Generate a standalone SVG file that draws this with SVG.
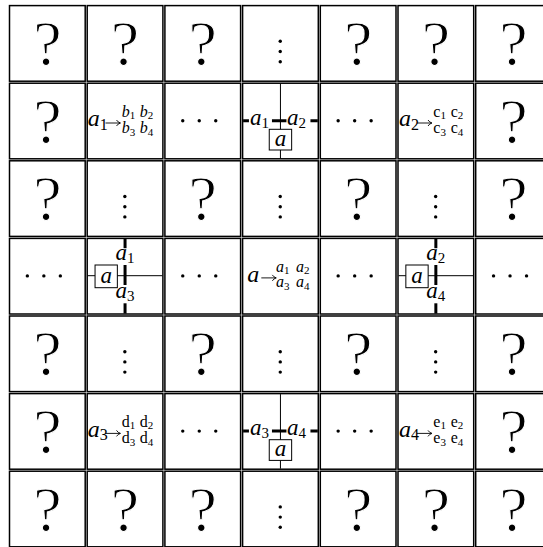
<svg xmlns="http://www.w3.org/2000/svg" xmlns:xlink="http://www.w3.org/1999/xlink" width="543" height="547" viewBox="0 0 543 547" font-family="'Liberation Serif','Times New Roman',serif">
<style>
text{font-family:"Liberation Serif","Times New Roman",serif;fill:#000}
.cell{fill:#fff;stroke:#000;stroke-width:1.5}
.q{font-size:64px;text-anchor:middle;stroke:#fff;stroke-width:1.1}
.big{font-size:24px;font-style:italic}
.bs{font-size:16px;font-style:normal}
.m{font-size:16px}
.mi{font-size:16px;font-style:italic}
.ms{font-size:11px}
.lbl{font-size:23px;font-style:italic}
.ls{font-size:15px;font-style:normal}
.mid{text-anchor:middle}
.thick{stroke:#000;stroke-width:3}
.thin{stroke:#000;stroke-width:1}
.bg{fill:#fff}
.box{fill:#fff;stroke:#000;stroke-width:1}
.arw{fill:none;stroke:#000;stroke-width:0.9}
</style>
<defs>
<g id="hd"><circle cx="-16.5" cy="0" r="1.7"/><circle cx="0" cy="0" r="1.7"/><circle cx="16.5" cy="0" r="1.7"/></g>
<g id="vd"><circle cx="0" cy="-10.2" r="1.7"/><circle cx="0" cy="0" r="1.7"/><circle cx="0" cy="10.2" r="1.7"/></g>
<path id="ar" class="arw" d="M0,0 H14.5 M11,-3 Q12.5,-0.6 15,0 Q12.5,0.6 11,3"/>
</defs>
<rect width="543" height="547" fill="#fff"/>

<!-- Row 0 -->
<g id="c0_0"><rect class="cell" x="9.5" y="5.6" width="75.7" height="75.6"/><text class="q" x="47.35" y="65">?</text></g>
<g id="c0_1"><rect class="cell" x="87.2" y="5.6" width="75.7" height="75.6"/><text class="q" x="125.05" y="65">?</text></g>
<g id="c0_2"><rect class="cell" x="164.9" y="5.6" width="75.7" height="75.6"/><text class="q" x="202.75" y="65">?</text></g>
<g id="c0_3"><rect class="cell" x="242.6" y="5.6" width="75.7" height="75.6"/><use xlink:href="#vd" x="280.25" y="51.5"/></g>
<g id="c0_4"><rect class="cell" x="320.3" y="5.6" width="75.7" height="75.6"/><text class="q" x="358.15" y="65">?</text></g>
<g id="c0_5"><rect class="cell" x="398" y="5.6" width="75.7" height="75.6"/><text class="q" x="435.85" y="65">?</text></g>
<g id="c0_6"><rect class="cell" x="475.7" y="5.6" width="75.7" height="75.6"/><text class="q" x="513.55" y="65">?</text></g>

<!-- Row 1 -->
<g id="c1_0"><rect class="cell" x="9.5" y="83.2" width="75.7" height="75.6"/><text class="q" x="47.35" y="142.6">?</text></g>
<g id="c1_1"><rect class="cell" x="87.2" y="83.2" width="75.7" height="75.6"/>
<text x="87.7" y="126.2"><tspan class="big">a</tspan><tspan class="bs" dy="3.5">1</tspan></text>
<use xlink:href="#ar" x="105.5" y="123"/>
<text x="121.7" y="116.7"><tspan class="mi">b</tspan><tspan class="ms" dy="2.5">1</tspan></text>
<text x="139.7" y="116.7"><tspan class="mi">b</tspan><tspan class="ms" dy="2.5">2</tspan></text>
<text x="121.7" y="133.2"><tspan class="mi">b</tspan><tspan class="ms" dy="2.5">3</tspan></text>
<text x="139.7" y="133.2"><tspan class="mi">b</tspan><tspan class="ms" dy="2.5">4</tspan></text>
</g>
<g id="c1_2"><rect class="cell" x="164.9" y="83.2" width="75.7" height="75.6"/><use xlink:href="#hd" x="199.25" y="120.7"/></g>
<g id="c1_3"><rect class="cell" x="242.6" y="83.2" width="75.7" height="75.6"/>
<line class="thick" x1="243.1" y1="120.7" x2="317.8" y2="120.7"/>
<line class="thin" x1="280.45" y1="83.7" x2="280.45" y2="158.3"/>
<rect class="bg" x="248.95" y="112" width="23" height="14"/>
<rect class="bg" x="286.45" y="112" width="24" height="14"/>
<text x="249.95" y="125"><tspan class="lbl">a</tspan><tspan class="ls" dy="3">1</tspan></text>
<text x="286.95" y="125"><tspan class="lbl">a</tspan><tspan class="ls" dy="3">2</tspan></text>
<rect class="box" x="269.25" y="129.3" width="22.4" height="20.7"/>
<text class="lbl mid" x="280.45" y="146">a</text>
</g>
<g id="c1_4"><rect class="cell" x="320.3" y="83.2" width="75.7" height="75.6"/><use xlink:href="#hd" x="354.65" y="120.7"/></g>
<g id="c1_5"><rect class="cell" x="398" y="83.2" width="75.7" height="75.6"/>
<text x="399" y="126.2"><tspan class="big">a</tspan><tspan class="bs" dy="3.5">2</tspan></text>
<use xlink:href="#ar" x="417" y="123"/>
<text x="433.3" y="116.7"><tspan class="m">c</tspan><tspan class="ms" dy="2.5">1</tspan></text>
<text x="450.7" y="116.7"><tspan class="m">c</tspan><tspan class="ms" dy="2.5">2</tspan></text>
<text x="433.3" y="133.2"><tspan class="m">c</tspan><tspan class="ms" dy="2.5">3</tspan></text>
<text x="450.7" y="133.2"><tspan class="m">c</tspan><tspan class="ms" dy="2.5">4</tspan></text>
</g>
<g id="c1_6"><rect class="cell" x="475.7" y="83.2" width="75.7" height="75.6"/><text class="q" x="513.55" y="142.6">?</text></g>

<!-- Row 2 -->
<g id="c2_0"><rect class="cell" x="9.5" y="160.8" width="75.7" height="75.6"/><text class="q" x="47.35" y="220.2">?</text></g>
<g id="c2_1"><rect class="cell" x="87.2" y="160.8" width="75.7" height="75.6"/><use xlink:href="#vd" x="124.85" y="206.7"/></g>
<g id="c2_2"><rect class="cell" x="164.9" y="160.8" width="75.7" height="75.6"/><text class="q" x="202.75" y="220.2">?</text></g>
<g id="c2_3"><rect class="cell" x="242.6" y="160.8" width="75.7" height="75.6"/><use xlink:href="#vd" x="280.25" y="206.7"/></g>
<g id="c2_4"><rect class="cell" x="320.3" y="160.8" width="75.7" height="75.6"/><text class="q" x="358.15" y="220.2">?</text></g>
<g id="c2_5"><rect class="cell" x="398" y="160.8" width="75.7" height="75.6"/><use xlink:href="#vd" x="435.65" y="206.7"/></g>
<g id="c2_6"><rect class="cell" x="475.7" y="160.8" width="75.7" height="75.6"/><text class="q" x="513.55" y="220.2">?</text></g>

<!-- Row 3 -->
<g id="c3_0"><rect class="cell" x="9.5" y="238.4" width="75.7" height="75.6"/><use xlink:href="#hd" x="43.85" y="275.9"/></g>
<g id="c3_1"><rect class="cell" x="87.2" y="238.4" width="75.7" height="75.6"/>
<line class="thin" x1="87.7" y1="275.7" x2="162.4" y2="275.7"/>
<line class="thick" x1="125.05" y1="238.9" x2="125.05" y2="313.5"/>
<rect class="bg" x="112.55" y="248.2" width="25" height="16.8"/>
<rect class="bg" x="112.55" y="285" width="25" height="18.3"/>
<text class="mid" x="125.05" y="260"><tspan class="lbl">a</tspan><tspan class="ls" dy="3">1</tspan></text>
<text class="mid" x="125.05" y="298.3"><tspan class="lbl">a</tspan><tspan class="ls" dy="3">3</tspan></text>
<rect class="box" x="95.05" y="265" width="22.3" height="22.7"/>
<text class="lbl mid" x="106.2" y="283.2">a</text>
</g>
<g id="c3_2"><rect class="cell" x="164.9" y="238.4" width="75.7" height="75.6"/><use xlink:href="#hd" x="199.25" y="275.9"/></g>
<g id="c3_3"><rect class="cell" x="242.6" y="238.4" width="75.7" height="75.6"/>
<text class="big" x="247.3" y="281.8">a</text>
<use xlink:href="#ar" x="261.3" y="277.9"/>
<text x="276" y="271.9"><tspan class="mi">a</tspan><tspan class="ms" dy="2.5">1</tspan></text>
<text x="296" y="271.9"><tspan class="mi">a</tspan><tspan class="ms" dy="2.5">2</tspan></text>
<text x="276" y="287.4"><tspan class="mi">a</tspan><tspan class="ms" dy="2.5">3</tspan></text>
<text x="296" y="287.4"><tspan class="mi">a</tspan><tspan class="ms" dy="2.5">4</tspan></text>
</g>
<g id="c3_4"><rect class="cell" x="320.3" y="238.4" width="75.7" height="75.6"/><use xlink:href="#hd" x="354.65" y="275.9"/></g>
<g id="c3_5"><rect class="cell" x="398" y="238.4" width="75.7" height="75.6"/>
<line class="thin" x1="398.5" y1="275.7" x2="473.2" y2="275.7"/>
<line class="thick" x1="435.85" y1="238.9" x2="435.85" y2="313.5"/>
<rect class="bg" x="423.35" y="248.2" width="25" height="16.8"/>
<rect class="bg" x="423.35" y="285" width="25" height="18.3"/>
<text class="mid" x="435.85" y="260"><tspan class="lbl">a</tspan><tspan class="ls" dy="3">2</tspan></text>
<text class="mid" x="435.85" y="298.3"><tspan class="lbl">a</tspan><tspan class="ls" dy="3">4</tspan></text>
<rect class="box" x="405.85" y="265" width="22.3" height="22.7"/>
<text class="lbl mid" x="417" y="283.2">a</text>
</g>
<g id="c3_6"><rect class="cell" x="475.7" y="238.4" width="75.7" height="75.6"/><use xlink:href="#hd" x="510.05" y="275.9"/></g>

<!-- Row 4 -->
<g id="c4_0"><rect class="cell" x="9.5" y="316" width="75.7" height="75.6"/><text class="q" x="47.35" y="375.4">?</text></g>
<g id="c4_1"><rect class="cell" x="87.2" y="316" width="75.7" height="75.6"/><use xlink:href="#vd" x="124.85" y="361.9"/></g>
<g id="c4_2"><rect class="cell" x="164.9" y="316" width="75.7" height="75.6"/><text class="q" x="202.75" y="375.4">?</text></g>
<g id="c4_3"><rect class="cell" x="242.6" y="316" width="75.7" height="75.6"/><use xlink:href="#vd" x="280.25" y="361.9"/></g>
<g id="c4_4"><rect class="cell" x="320.3" y="316" width="75.7" height="75.6"/><text class="q" x="358.15" y="375.4">?</text></g>
<g id="c4_5"><rect class="cell" x="398" y="316" width="75.7" height="75.6"/><use xlink:href="#vd" x="435.65" y="361.9"/></g>
<g id="c4_6"><rect class="cell" x="475.7" y="316" width="75.7" height="75.6"/><text class="q" x="513.55" y="375.4">?</text></g>

<!-- Row 5 -->
<g id="c5_0"><rect class="cell" x="9.5" y="393.6" width="75.7" height="75.6"/><text class="q" x="47.35" y="453">?</text></g>
<g id="c5_1"><rect class="cell" x="87.2" y="393.6" width="75.7" height="75.6"/>
<text x="87.7" y="436.6"><tspan class="big">a</tspan><tspan class="bs" dy="3.5">3</tspan></text>
<use xlink:href="#ar" x="105.5" y="433.4"/>
<text x="121.7" y="426.6"><tspan class="m">d</tspan><tspan class="ms" dy="2.5">1</tspan></text>
<text x="139.7" y="426.6"><tspan class="m">d</tspan><tspan class="ms" dy="2.5">2</tspan></text>
<text x="121.7" y="443.1"><tspan class="m">d</tspan><tspan class="ms" dy="2.5">3</tspan></text>
<text x="139.7" y="443.1"><tspan class="m">d</tspan><tspan class="ms" dy="2.5">4</tspan></text>
</g>
<g id="c5_2"><rect class="cell" x="164.9" y="393.6" width="75.7" height="75.6"/><use xlink:href="#hd" x="199.25" y="431.1"/></g>
<g id="c5_3"><rect class="cell" x="242.6" y="393.6" width="75.7" height="75.6"/>
<line class="thick" x1="243.1" y1="431.1" x2="317.8" y2="431.1"/>
<line class="thin" x1="280.45" y1="394.1" x2="280.45" y2="468.7"/>
<rect class="bg" x="248.95" y="422.4" width="23" height="14"/>
<rect class="bg" x="286.45" y="422.4" width="24" height="14"/>
<text x="249.95" y="435.4"><tspan class="lbl">a</tspan><tspan class="ls" dy="3">3</tspan></text>
<text x="286.95" y="435.4"><tspan class="lbl">a</tspan><tspan class="ls" dy="3">4</tspan></text>
<rect class="box" x="269.25" y="439.7" width="22.4" height="20.7"/>
<text class="lbl mid" x="280.45" y="456.4">a</text>
</g>
<g id="c5_4"><rect class="cell" x="320.3" y="393.6" width="75.7" height="75.6"/><use xlink:href="#hd" x="354.65" y="431.1"/></g>
<g id="c5_5"><rect class="cell" x="398" y="393.6" width="75.7" height="75.6"/>
<text x="399" y="436.6"><tspan class="big">a</tspan><tspan class="bs" dy="3.5">4</tspan></text>
<use xlink:href="#ar" x="417" y="433.4"/>
<text x="433.3" y="426.6"><tspan class="m">e</tspan><tspan class="ms" dy="2.5">1</tspan></text>
<text x="450.7" y="426.6"><tspan class="m">e</tspan><tspan class="ms" dy="2.5">2</tspan></text>
<text x="433.3" y="443.1"><tspan class="m">e</tspan><tspan class="ms" dy="2.5">3</tspan></text>
<text x="450.7" y="443.1"><tspan class="m">e</tspan><tspan class="ms" dy="2.5">4</tspan></text>
</g>
<g id="c5_6"><rect class="cell" x="475.7" y="393.6" width="75.7" height="75.6"/><text class="q" x="513.55" y="453">?</text></g>

<!-- Row 6 -->
<g id="c6_0"><rect class="cell" x="9.5" y="471.2" width="75.7" height="75.6"/><text class="q" x="47.35" y="530.6">?</text></g>
<g id="c6_1"><rect class="cell" x="87.2" y="471.2" width="75.7" height="75.6"/><text class="q" x="125.05" y="530.6">?</text></g>
<g id="c6_2"><rect class="cell" x="164.9" y="471.2" width="75.7" height="75.6"/><text class="q" x="202.75" y="530.6">?</text></g>
<g id="c6_3"><rect class="cell" x="242.6" y="471.2" width="75.7" height="75.6"/><use xlink:href="#vd" x="280.25" y="517.1"/></g>
<g id="c6_4"><rect class="cell" x="320.3" y="471.2" width="75.7" height="75.6"/><text class="q" x="358.15" y="530.6">?</text></g>
<g id="c6_5"><rect class="cell" x="398" y="471.2" width="75.7" height="75.6"/><text class="q" x="435.85" y="530.6">?</text></g>
<g id="c6_6"><rect class="cell" x="475.7" y="471.2" width="75.7" height="75.6"/><text class="q" x="513.55" y="530.6">?</text></g>
</svg>
